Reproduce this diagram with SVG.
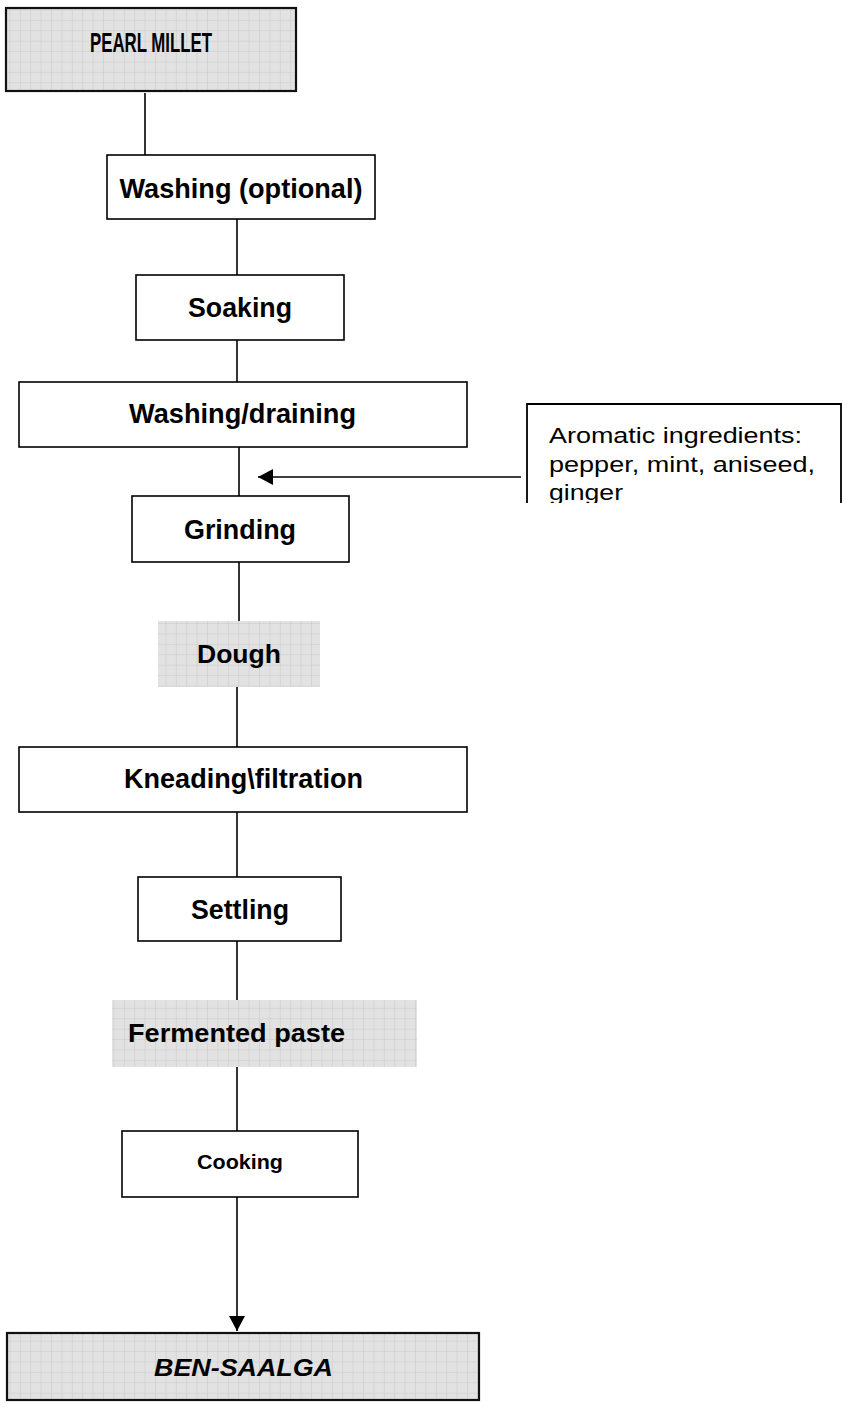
<svg xmlns="http://www.w3.org/2000/svg" width="842" height="1407" viewBox="0 0 842 1407">
<style>
.box{fill:#fff;stroke:#000;stroke-width:1.6}
.grid{fill:url(#grid)}
.gridb{fill:url(#grid);stroke:#111;stroke-width:2.2}
.lbl{font-family:"Liberation Sans",Arial,sans-serif;font-weight:bold;fill:#000;text-anchor:middle}
.reg{font-family:"Liberation Sans",Arial,sans-serif;font-size:22px;fill:#000}
.con{stroke:#000;stroke-width:1.6;fill:none}
</style>
<defs>
<pattern id="grid" x="0" y="0" width="10.4" height="10.4" patternUnits="userSpaceOnUse">
<rect width="10.4" height="10.4" fill="#e2e2e2"/>
<path d="M10.4 0V10.4M0 10.4H10.4" stroke="#c8c8c8" stroke-width="1"/>
</pattern>
<marker id="ah" markerWidth="16" markerHeight="16" refX="15" refY="8" orient="auto" markerUnits="userSpaceOnUse">
<path d="M0 0L15 8L0 16Z" fill="#000"/>
</marker>
<clipPath id="aroclip"><rect x="520" y="400" width="322" height="103"/></clipPath>
</defs>

<g id="connectors">
<line class="con" x1="145" y1="93" x2="145" y2="155"/>
<line class="con" x1="237" y1="219" x2="237" y2="275"/>
<line class="con" x1="237" y1="340" x2="237" y2="382"/>
<line class="con" x1="239" y1="447" x2="239" y2="496"/>
<line class="con" x1="521" y1="477" x2="258" y2="477" marker-end="url(#ah)"/>
<line class="con" x1="239" y1="562" x2="239" y2="621"/>
<line class="con" x1="237" y1="687" x2="237" y2="747"/>
<line class="con" x1="237" y1="812" x2="237" y2="877"/>
<line class="con" x1="237" y1="941" x2="237" y2="1000"/>
<line class="con" x1="237" y1="1067" x2="237" y2="1131"/>
<line class="con" x1="237" y1="1197" x2="237" y2="1331" marker-end="url(#ah)"/>
</g>

<g id="pearl-millet">
<rect class="gridb" x="6" y="8" width="290" height="83"/>
<text class="lbl" x="151" y="52" textLength="122" lengthAdjust="spacingAndGlyphs" style="font-size:28px">PEARL MILLET</text>
</g>

<g id="washing-optional">
<rect class="box" x="107" y="155" width="268" height="64"/>
<text class="lbl" x="241" y="198" textLength="243" lengthAdjust="spacingAndGlyphs" style="font-size:27px">Washing (optional)</text>
</g>

<g id="soaking">
<rect class="box" x="136" y="275" width="208" height="65"/>
<text class="lbl" x="240" y="317" textLength="104" lengthAdjust="spacingAndGlyphs" style="font-size:27px">Soaking</text>
</g>

<g id="washing-draining">
<rect class="box" x="19" y="382" width="448" height="65"/>
<text class="lbl" x="242.5" y="423" textLength="227" lengthAdjust="spacingAndGlyphs" style="font-size:27px">Washing/draining</text>
</g>

<g id="aromatic">
<g clip-path="url(#aroclip)">
<path d="M527 505V404H841V505" fill="#fff" stroke="#000" stroke-width="1.8"/>
<text class="reg" x="549" y="443" textLength="253" lengthAdjust="spacingAndGlyphs">Aromatic ingredients:</text>
<text class="reg" x="549" y="472" textLength="266" lengthAdjust="spacingAndGlyphs">pepper, mint, aniseed,</text>
<text class="reg" x="549" y="500" textLength="74" lengthAdjust="spacingAndGlyphs">ginger</text>
</g>
</g>

<g id="grinding">
<rect class="box" x="132" y="496" width="217" height="66"/>
<text class="lbl" x="240" y="539" textLength="112" lengthAdjust="spacingAndGlyphs" style="font-size:27px">Grinding</text>
</g>

<g id="dough">
<rect class="grid" x="158" y="621" width="162" height="66"/>
<text class="lbl" x="239" y="663" textLength="84" lengthAdjust="spacingAndGlyphs" style="font-size:26px">Dough</text>
</g>

<g id="kneading">
<rect class="box" x="19" y="747" width="448" height="65"/>
<text class="lbl" x="243.5" y="788" textLength="239" lengthAdjust="spacingAndGlyphs" style="font-size:27px">Kneading\filtration</text>
</g>

<g id="settling">
<rect class="box" x="138" y="877" width="203" height="64"/>
<text class="lbl" x="240" y="919" textLength="98" lengthAdjust="spacingAndGlyphs" style="font-size:27px">Settling</text>
</g>

<g id="fermented-paste">
<rect class="grid" x="112" y="1000" width="305" height="67"/>
<text class="lbl" x="236.5" y="1042" textLength="217" lengthAdjust="spacingAndGlyphs" style="font-size:25px">Fermented paste</text>
</g>

<g id="cooking">
<rect class="box" x="122" y="1131" width="236" height="66"/>
<text class="lbl" x="240" y="1169" textLength="86" lengthAdjust="spacingAndGlyphs" style="font-size:21px">Cooking</text>
</g>

<g id="ben-saalga">
<rect class="gridb" x="7" y="1333" width="472" height="67"/>
<text class="lbl" x="243.5" y="1376" textLength="179" lengthAdjust="spacingAndGlyphs" style="font-size:24px;font-style:italic">BEN-SAALGA</text>
</g>
</svg>
